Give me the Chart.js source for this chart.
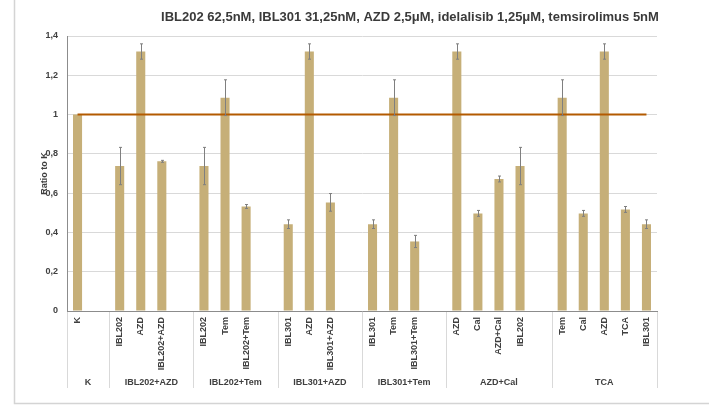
<!DOCTYPE html>
<html>
<head>
<meta charset="utf-8">
<script src="https://cdn.jsdelivr.net/npm/chart.js@4/dist/chart.umd.min.js"></script>
<style>
html,body{margin:0;padding:0;background:#fff;}
#wrap{position:relative;width:709px;height:406px;}
</style>
</head>
<body>
<div id="wrap"><canvas id="c" width="709" height="406"></canvas></div>
<script>
const chartTitle = 'IBL202 62,5nM, IBL301 31,25nM, AZD 2,5\u03bcM, idelalisib 1,25\u03bcM, temsirolimus 5nM';
const yTitle = 'Ratio to K';
const categories = ['K','', 'IBL202','AZD','IBL202+AZD','', 'IBL202','Tem','IBL202+Tem','', 'IBL301','AZD','IBL301+AZD','', 'IBL301','Tem','IBL301+Tem','', 'AZD','Cal','AZD+Cal','IBL202','', 'Tem','Cal','AZD','TCA','IBL301'];
const values = [1.0, null, 0.738, 1.321, 0.762, null, 0.738, 1.086, 0.532, null, 0.442, 1.321, 0.553, null, 0.442, 1.086, 0.354, null, 1.321, 0.497, 0.672, 0.738, null, 1.086, 0.497, 1.321, 0.517, 0.442];
const errors = [0, null, 0.095, 0.039, 0.005, null, 0.095, 0.091, 0.010, null, 0.022, 0.039, 0.045, null, 0.022, 0.091, 0.031, null, 0.039, 0.015, 0.015, 0.095, null, 0.091, 0.015, 0.039, 0.015, 0.022];
const refValue = 1;
const groupNames = ['K','IBL202+AZD','IBL202+Tem','IBL301+AZD','IBL301+Tem','AZD+Cal','TCA'];
const groupSizes = [2,4,4,4,4,5,5];
const yTicks = [0,0.2,0.4,0.6,0.8,1,1.2,1.4];

const FONT = "'Liberation Sans', Arial, sans-serif";

const decor = {
  id: 'decor',
  beforeDraw(chart) {
    const ctx = chart.ctx;
    ctx.save();
    ctx.strokeStyle = '#d4d4d4';
    ctx.lineWidth = 1.5;
    ctx.beginPath();
    ctx.moveTo(14.5, 0);
    ctx.lineTo(14.5, 403.5);
    ctx.lineTo(709, 403.5);
    ctx.stroke();
    ctx.restore();
  },
  afterDraw(chart) {
    const ctx = chart.ctx;
    const xs = chart.scales.x;
    const area = chart.chartArea;
    ctx.save();
    // title
    ctx.fillStyle = '#3a3a3a';
    ctx.font = 'bold 13px ' + FONT;
    ctx.textAlign = 'center';
    ctx.textBaseline = 'middle';
    ctx.fillText(chartTitle, 410, 17);
    // y title
    ctx.save();
    ctx.translate(45, (area.top + area.bottom) / 2);
    ctx.rotate(-Math.PI / 2);
    ctx.font = 'bold 9px ' + FONT;
    ctx.fillStyle = '#404040';
    ctx.fillText(yTitle, 0, 0);
    ctx.restore();
    // group separators and labels
    const step = (area.right - area.left) / categories.length;
    ctx.strokeStyle = '#d9d9d9';
    ctx.lineWidth = 1;
    let idx = 0;
    const bounds = [area.left];
    groupSizes.forEach(s => { idx += s; bounds.push(xs.getPixelForValue(idx - 1) + step / 2); });
    bounds.forEach(b => {
      const x = Math.round(b) + 0.5;
      ctx.beginPath();
      ctx.moveTo(x, area.bottom + 1);
      ctx.lineTo(x, 388);
      ctx.stroke();
    });
    ctx.font = 'bold 9px ' + FONT;
    ctx.fillStyle = '#404040';
    ctx.textAlign = 'center';
    groupNames.forEach((g, i) => {
      ctx.fillText(g, (bounds[i] + bounds[i + 1]) / 2, 383);
    });
    ctx.restore();
  },
  afterDatasetsDraw(chart) {
    const ctx = chart.ctx;
    const ys = chart.scales.y;
    const meta = chart.getDatasetMeta(0);
    ctx.save();
    ctx.strokeStyle = '#7f7f7f';
    ctx.lineWidth = 1;
    meta.data.forEach((bar, i) => {
      const v = values[i], e = errors[i];
      if (v == null || !e) return;
      const x = Math.round(bar.x) + 0.5;
      const y1 = ys.getPixelForValue(v + e), y2 = ys.getPixelForValue(v - e);
      ctx.beginPath();
      ctx.moveTo(x, y1); ctx.lineTo(x, y2);
      ctx.moveTo(x - 1.5, y1); ctx.lineTo(x + 1.5, y1);
      ctx.moveTo(x - 1.5, y2); ctx.lineTo(x + 1.5, y2);
      ctx.stroke();
    });
    ctx.restore();
  }
};

new Chart(document.getElementById('c'), {
  data: {
    labels: categories,
    datasets: [
      {
        type: 'bar',
        data: values,
        backgroundColor: '#c6af78',
        borderWidth: 0,
        barPercentage: 0.43,
        categoryPercentage: 1,
        order: 1
      },
      {
        type: 'line',
        data: categories.map(() => refValue),
        borderColor: '#b35a00',
        borderWidth: 2,
        pointRadius: 0,
        fill: false,
        order: 0
      }
    ]
  },
  options: {
    responsive: false,
    animation: false,
    devicePixelRatio: 1,
    layout: { padding: { left: 0, right: 52, top: 36, bottom: 0 } },
    plugins: { legend: { display: false }, tooltip: { enabled: false }, title: { display: false } },
    scales: {
      x: {
        grid: { display: false, drawTicks: false },
        border: { color: '#8c8c8c', width: 1 },
        ticks: {
          autoSkip: false, maxRotation: 90, minRotation: 90, padding: 6,
          color: '#404040', font: { family: FONT, size: 9, weight: 'bold' }
        },
        afterFit(s) { s.height = 95; }
      },
      y: {
        min: 0, max: 1.4,
        afterBuildTicks(s) { s.ticks = yTicks.map(v => ({ value: v })); },
        grid: { color: '#d9d9d9', drawTicks: false },
        border: { color: '#8c8c8c', width: 1 },
        ticks: {
          padding: 9, color: '#404040', font: { family: FONT, size: 9, weight: 'bold' },
          callback: v => String(Number(v.toFixed(1))).replace('.', ',')
        },
        afterFit(s) { s.width = 67; }
      }
    }
  },
  plugins: [decor]
});
</script>
</body>
</html>
